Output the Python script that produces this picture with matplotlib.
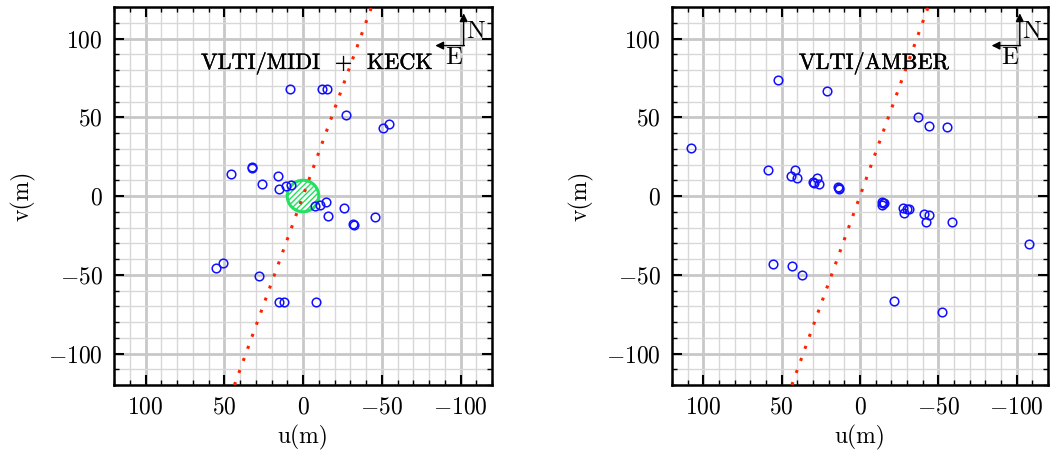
import matplotlib
matplotlib.use('Agg')
import matplotlib.pyplot as plt
import matplotlib.patheffects as pe
from matplotlib.patches import Circle
from matplotlib.ticker import MultipleLocator

plt.rcParams['font.family'] = 'serif'
plt.rcParams['font.serif'] = ['cmr10']
plt.rcParams['mathtext.fontset'] = 'cm'
plt.rcParams['axes.formatter.use_mathtext'] = True
plt.rcParams['hatch.linewidth'] = 1.0

# ---- data ----
midi_u = [8, -12, -15, -27.6, -50.6, -54.4, 45.6, 32.5, 32.3, 26.1, 16, 15, 11, 7.8,
          -7.4, -10.8, -14.8, -15.8, -26, -32, -32.2, -45.4, 55, 51, 27.8, 15, 12, -8]
midi_v = [68, 68, 68, 51.2, 43, 46, 13.8, 18.2, 18.0, 7.8, 12.7, 4.4, 6.5, 7,
          -6.1, -5.7, -4, -12.5, -7.4, -18, -18.2, -13.6, -46, -42.6, -51, -67.3, -67.3, -67.5]

amber_u = [107.7, 52.3, 21, -37.2, -44, -55.7, 58.5, 41.5, 44, 40.4, 30.2, 29.2, 27.4, 26.4,
           14, 13.5, 13.5, -13.8, -14.4, -15, -13.8, -27.2, -28.3, -30.3, -31.5, -40.6, -44.2,
           -41.9, -58.9, -108, 55.3, 43.6, 36.8, -21.7, -52.5]
amber_v = [30.5, 73.8, 66.9, 50.4, 44.6, 43.6, 16.7, 16.7, 12.5, 11.4, 9.1, 8.4, 11.2, 7.6,
           5.7, 4.9, 4.2, -3.8, -4.5, -4.2, -5.5, -7.4, -10.6, -8.3, -8.0, -11.2, -12.1,
           -16.3, -16.3, -30.3, -43.2, -44.2, -50, -66.7, -73.7]

line_u = [43.5, -43.5]
line_v = [-120, 120]

circle_center = (0, 0)
circle_radius = 10

titles = ['VLTI/MIDI  +  KECK', 'VLTI/AMBER']
ticks = [100, 50, 0, -50, -100]

fig = plt.figure(figsize=(10.53, 4.57), dpi=100)
ax1 = fig.add_axes([114/1053, 72/457, 378/1053, 378/457])
ax2 = fig.add_axes([672/1053, 72/457, 376/1053, 378/457])

thick = [pe.withStroke(linewidth=0.3, foreground='black')]


def style(ax, title):
    ax.set_xlim(120, -120)
    ax.set_ylim(-120, 120)
    ax.xaxis.set_minor_locator(MultipleLocator(10))
    ax.yaxis.set_minor_locator(MultipleLocator(10))
    ax.set_xticks(ticks)
    ax.set_yticks(ticks)
    ax.grid(which='minor', color='#d8d8d8', lw=1.0, zorder=0)
    ax.grid(which='major', color='#c8c8c8', lw=2.0, zorder=0)
    ax.set_axisbelow(True)
    ax.tick_params(which='both', direction='in', top=True, right=True, labelsize=17)
    ax.tick_params(which='major', length=7, width=1.5, pad=8)
    ax.tick_params(which='minor', length=3.5, width=1.0)
    for s in ax.spines.values():
        s.set_linewidth(1.8)
    ax.set_xlabel('u(m)', fontsize=17, labelpad=5)
    ax.set_ylabel('v(m)', fontsize=17, labelpad=9)
    ax.plot(line_u, line_v, color='#ff2200', lw=2.2, linestyle=(0, (1, 3.2)), zorder=4)
    ax.text(-9, 84, title, fontsize=16, ha='center', va='center', zorder=6,
            path_effects=thick)
    ax.annotate('', xy=(-102, 116), xytext=(-102, 95.5),
                arrowprops=dict(arrowstyle='-|>', color='k', lw=1.0, mutation_scale=12,
                                shrinkA=0, shrinkB=0), zorder=6)
    ax.annotate('', xy=(-84, 95.5), xytext=(-102.5, 95.5),
                arrowprops=dict(arrowstyle='-|>', color='k', lw=1.0, mutation_scale=12,
                                shrinkA=0, shrinkB=0), zorder=6)
    ax.text(-109.5, 104, 'N', fontsize=18, ha='center', va='center', zorder=6)
    ax.text(-95.5, 87.5, 'E', fontsize=18, ha='center', va='center', zorder=6)


style(ax1, titles[0])
style(ax2, titles[1])

circ = Circle(circle_center, circle_radius, facecolor='white', edgecolor='#22e060',
              hatch='//////', lw=2.2, zorder=3)
ax1.add_patch(circ)

ax1.plot(midi_u, midi_v, 'o', mfc='none', mec='#1010ff', ms=6.2, mew=1.1, zorder=5)
ax2.plot(amber_u, amber_v, 'o', mfc='none', mec='#1010ff', ms=6.2, mew=1.1, zorder=5)

fig.savefig('out.png', dpi=100)
